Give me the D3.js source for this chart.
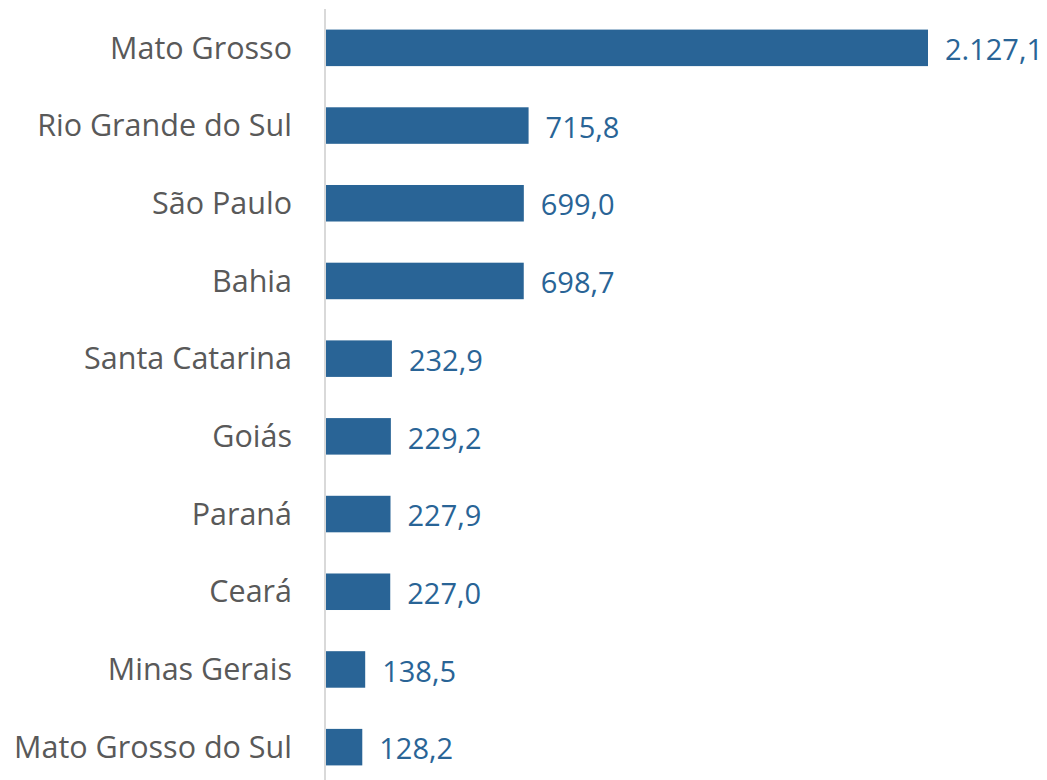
<!DOCTYPE html>
<html><head><meta http-equiv="Content-Type" content="text/html; charset=UTF-8"><style>
body { margin: 0; background: #fff; }
</style>
</head>
<body>
<svg width="1047" height="780"></svg>
<script src="https://cdn.jsdelivr.net/npm/d3@7"></script>
<script>

var states = [ "Mato Grosso", "Rio Grande do Sul", "São Paulo", "Bahia", "Santa Catarina",
               "Goiás", "Paraná", "Ceará", "Minas Gerais", "Mato Grosso do Sul" ];
var values = [ 2127.1, 715.8, 699.0, 698.7, 232.9, 229.2, 227.9, 227.0, 138.5, 128.2 ];

var fmt = function(v) {
  return d3.format(",.1f")(v).replace(/,/g, "#").replace(".", ",").replace(/#/g, ".");
};

var svg = d3.select("svg"),
    axisX = 326;

var x = d3.scaleLinear()
    .domain([0, d3.max(values)])
    .range([axisX, 928]);

var y = d3.scaleBand()
    .domain(states)
    .range([9, 786])
    .paddingInner(0.53)
    .paddingOuter(0.265);

var blue = "#296496";

svg.append("g")
  .selectAll("rect")
  .data(values)
  .enter().append("rect")
    .attr("x", x(0))
    .attr("y", function(d, i) { return y(states[i]); })
    .attr("width", function(d) { return x(d) - x(0); })
    .attr("height", y.bandwidth())
    .attr("fill", blue);

// axis line
svg.append("line")
    .attr("x1", axisX - 1).attr("x2", axisX - 1)
    .attr("y1", 9).attr("y2", 780)
    .attr("stroke", "#d9d9d9")
    .attr("stroke-width", 2);

svg.append("g")
    .attr("font-family", "'Open Sans', sans-serif")
    .attr("font-size", 30.5)
    .attr("fill", "#595959")
    .attr("text-anchor", "end")
  .selectAll("text")
  .data(states)
  .enter().append("text")
    .attr("x", 292)
    .attr("y", function(d) { return y(d) + y.bandwidth() / 2; })
    .attr("dy", "0.35em")
    .text(function(d) { return d; });

svg.append("g")
    .attr("font-family", "'Open Sans', sans-serif")
    .attr("font-size", 29)
    .attr("fill", blue)
  .selectAll("text")
  .data(values)
  .enter().append("text")
    .attr("x", function(d) { return x(d) + 17; })
    .attr("y", function(d, i) { return y(states[i]) + y.bandwidth() / 2 + 2; })
    .attr("dy", "0.35em")
    .text(fmt);

</script>
</body></html>
